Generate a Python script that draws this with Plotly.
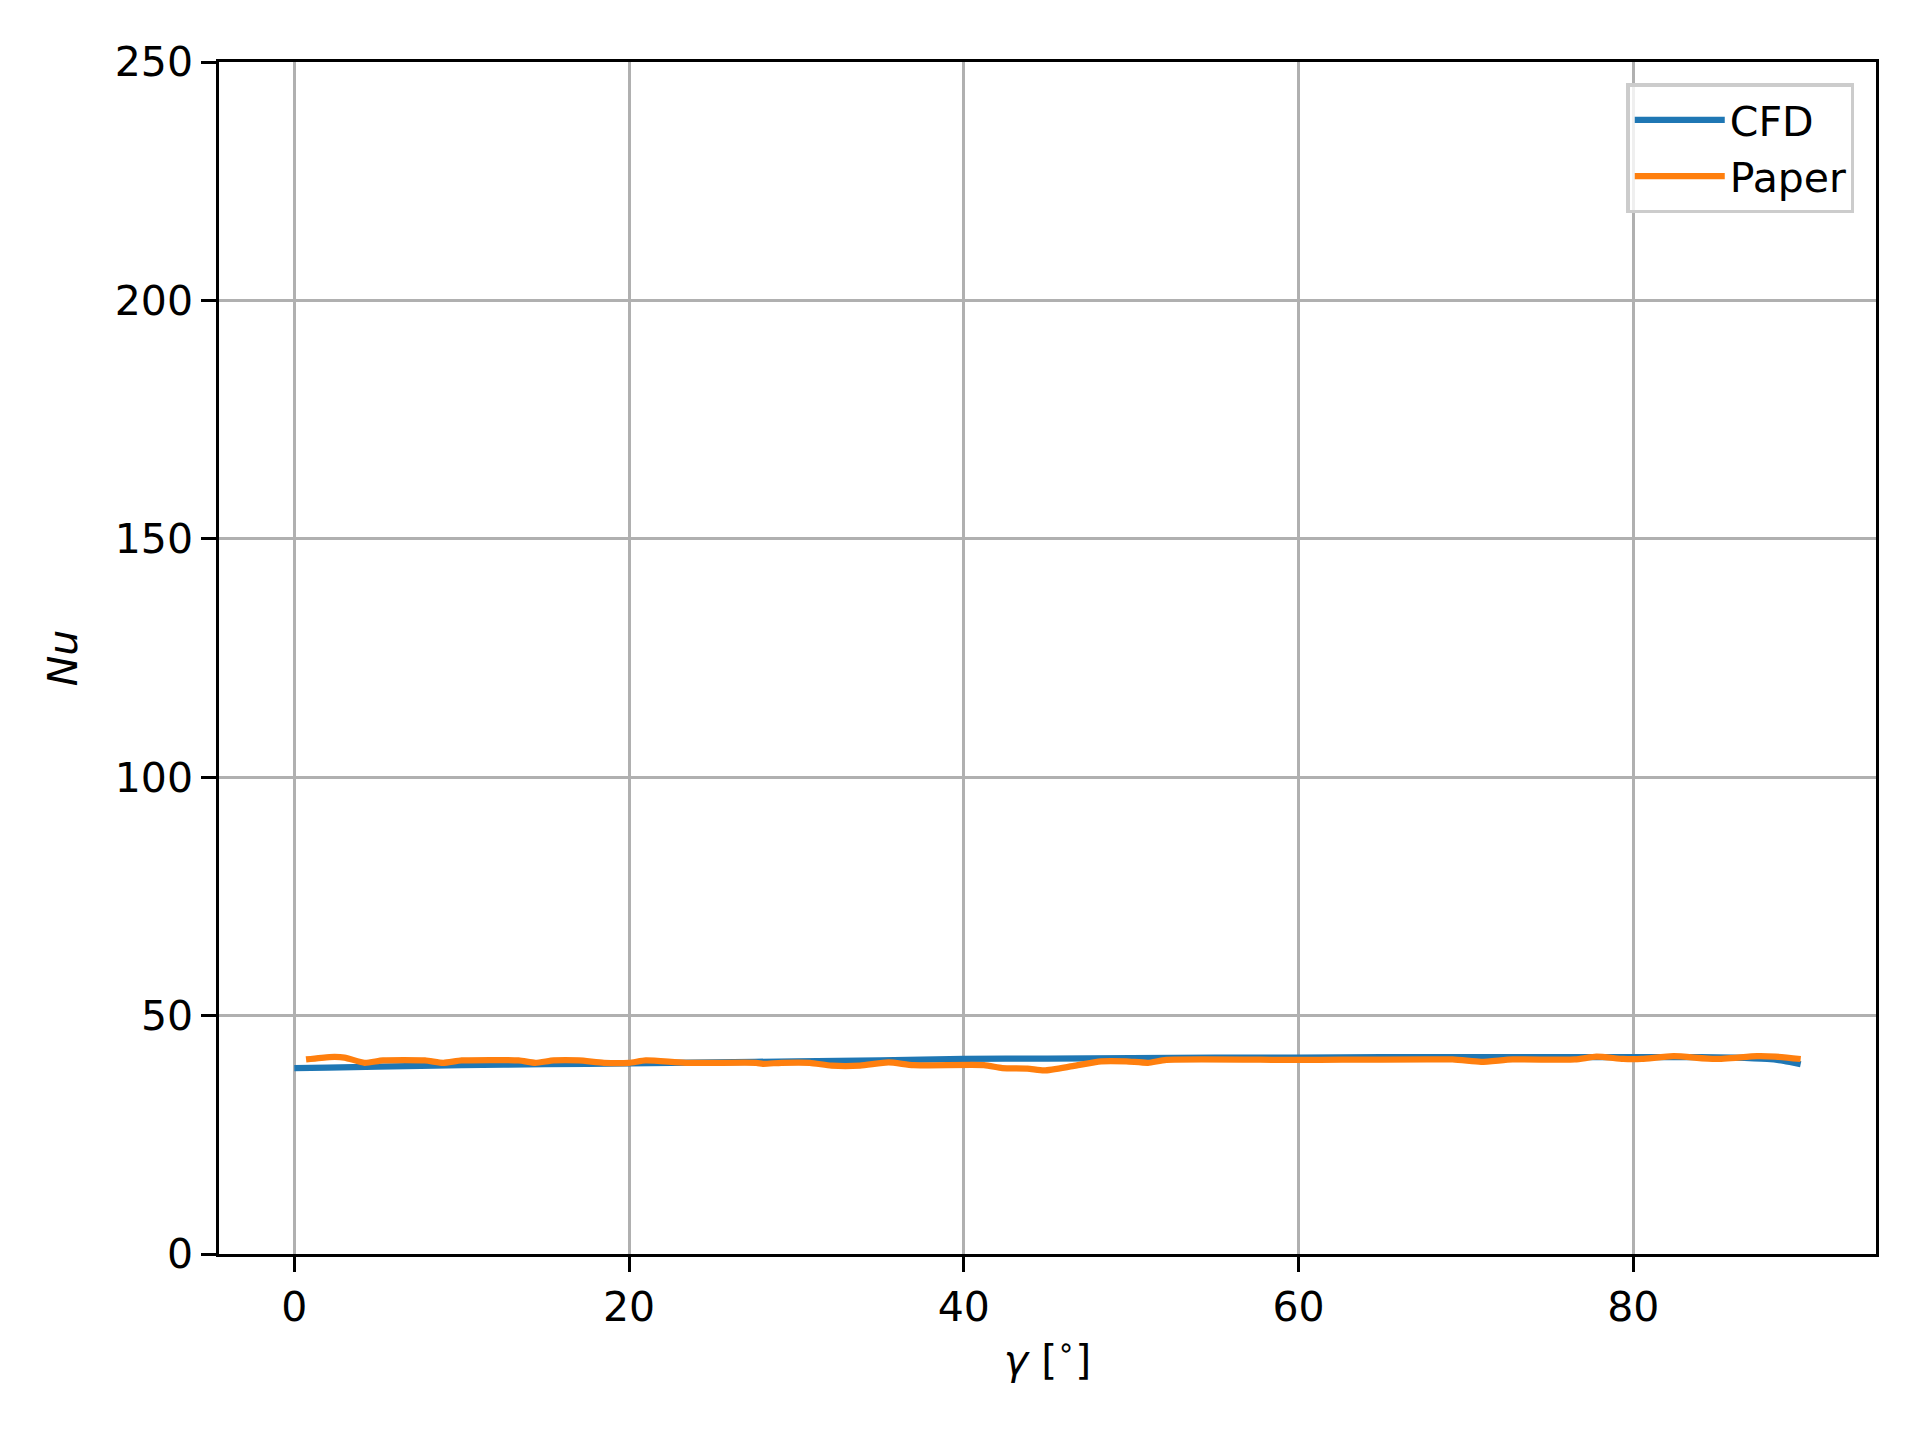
import plotly.graph_objects as go

# CFD curve (gamma in degrees, Nusselt number)
CFD_GAMMA = [0, 2, 5, 10, 15, 20, 25, 30, 35, 40, 45, 50, 55, 60, 65, 70,
             75, 80, 84, 86, 88, 89, 90]
CFD_NU = [39.0, 39.1, 39.3, 39.6, 39.8, 40.0, 40.2, 40.4, 40.6, 40.9, 41.0,
          41.1, 41.2, 41.2, 41.3, 41.3, 41.3, 41.3, 41.3, 41.2, 40.9, 40.5,
          39.8]

PAPER_GAMMA = [0.7, 2.1, 3.0, 4.2, 5.3, 7.8, 8.9, 10.0, 13.4, 14.4, 15.5,
               17.0, 18.5, 20.0, 21.0, 23.4, 27.6, 28.0, 29.1, 30.8, 32.1,
               33.8, 35.5, 37.0, 41.2, 42.3, 43.8, 44.8, 46.5, 48.2, 49.7,
               51.0, 52.1, 60.0, 69.2, 70.9, 72.8, 76.5, 77.8, 79.4, 80.5,
               82.4, 84.9, 87.4, 88.5, 90.0]
PAPER_NU = [40.8, 41.3, 41.2, 40.1, 40.6, 40.6, 40.1, 40.6, 40.6, 40.1, 40.6,
            40.6, 40.1, 40.1, 40.6, 40.1, 40.1, 39.9, 40.1, 40.1, 39.5, 39.5,
            40.2, 39.6, 39.6, 39.0, 38.9, 38.5, 39.4, 40.4, 40.4, 40.1, 40.7,
            40.7, 40.8, 40.3, 40.8, 40.8, 41.4, 40.9, 40.9, 41.5, 40.9, 41.5,
            41.4, 40.9]

X_TICKS = [0, 20, 40, 60, 80]
Y_TICKS = [0, 50, 100, 150, 200, 250]

FONT = "DejaVu Sans"

fig = go.Figure()
fig.add_trace(go.Scatter(x=CFD_GAMMA, y=CFD_NU, mode="lines", name="CFD",
                         line=dict(color="#1f77b4", width=6.25,
                                   shape="spline", smoothing=0.6)))
fig.add_trace(go.Scatter(x=PAPER_GAMMA, y=PAPER_NU, mode="lines",
                         name="Paper",
                         line=dict(color="#ff7f0e", width=6.25,
                                   shape="spline", smoothing=0.6)))

axis_style = dict(
    showline=True, linecolor="black", linewidth=3.3, mirror=True,
    ticks="outside", ticklen=14.6, tickwidth=3.3, tickcolor="black",
    showgrid=True, gridcolor="#b0b0b0", gridwidth=3.3,
    zeroline=False,
    tickfont=dict(family=FONT, size=41, color="black"),
)

fig.update_xaxes(range=[-4.5, 94.5], tickvals=X_TICKS,
                 title=dict(text="<i>γ</i> [<sup>∘</sup>]",
                            font=dict(family=FONT, size=41, color="black"),
                            standoff=16),
                 **axis_style)
fig.update_yaxes(range=[0, 250], tickvals=Y_TICKS,
                 title=dict(text="<i>Nu</i>",
                            font=dict(family=FONT, size=41, color="black"),
                            standoff=25),
                 **axis_style)

fig.update_layout(
    width=1920,
    height=1440,
    margin=dict(l=211, r=52, t=54, b=194),
    plot_bgcolor="white",
    paper_bgcolor="white",
    font=dict(family=FONT, size=41, color="black"),
    legend=dict(
        x=0.987, y=0.982, xanchor="right", yanchor="top",
        bgcolor="rgba(255,255,255,0.8)",
        bordercolor="#cccccc", borderwidth=3.3,
        font=dict(family=FONT, size=41, color="black"),
        itemwidth=90,
    ),
)

fig.write_html("out.html")
